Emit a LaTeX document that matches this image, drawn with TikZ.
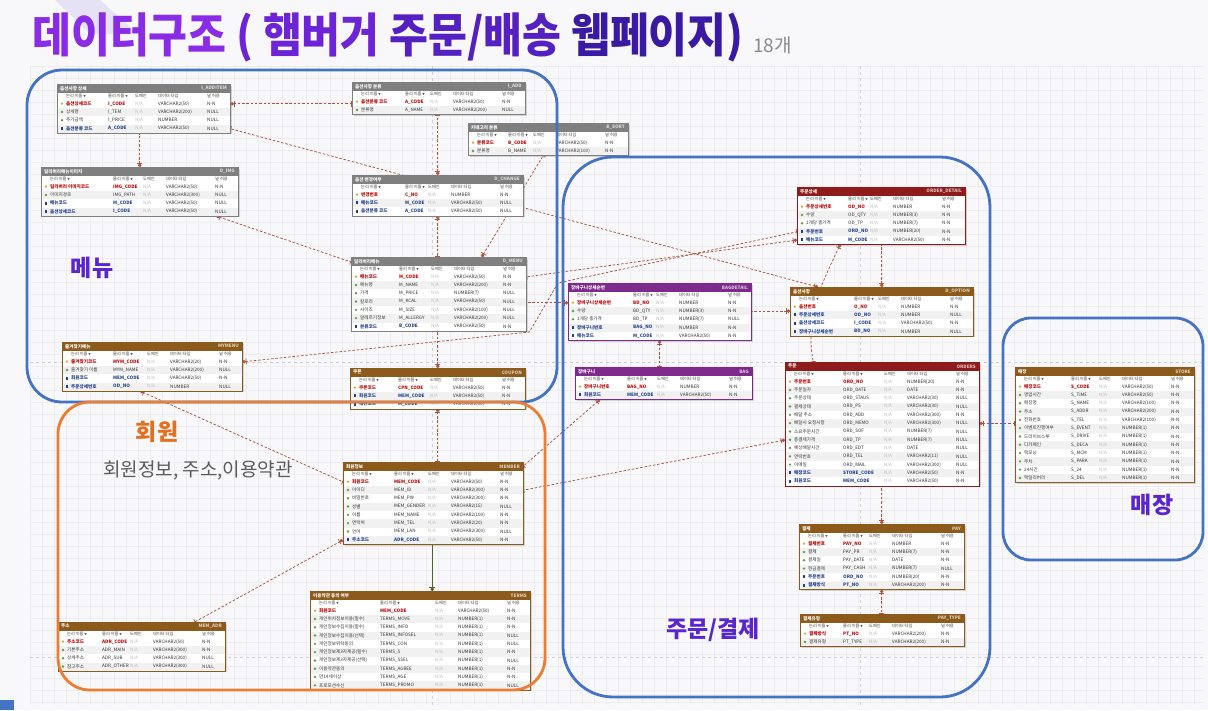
\documentclass[tikz,border=0pt]{standalone}
\usepackage{fontspec}
\setmainfont{Noto Sans CJK KR}
\usetikzlibrary{arrows.meta,shapes.geometric,shadows}
\definecolor{page}{HTML}{F8F8FA}
\definecolor{gridc}{HTML}{ECECF1}
\definecolor{pagebreak}{HTML}{CFCFD8}
\definecolor{deco}{HTML}{E6E2F6}
\definecolor{tA}{HTML}{8A2CE6}
\definecolor{tB}{HTML}{6C24D6}
\definecolor{tC}{HTML}{5420C2}
\definecolor{tD}{HTML}{3A1AA2}
\definecolor{countgray}{HTML}{8A8A8A}
\definecolor{grpblue}{HTML}{4472C4}
\definecolor{grporange}{HTML}{ED7D31}
\definecolor{lblpurple}{HTML}{5A24D0}
\definecolor{lblorange}{HTML}{E2701E}
\definecolor{subgray}{HTML}{5A5A5A}
\definecolor{hdgray}{HTML}{7F7F7F}
\definecolor{hdbrown}{HTML}{8C5A1A}
\definecolor{hdmaroon}{HTML}{8E1C1C}
\definecolor{hdpurple}{HTML}{7E2A8C}
\definecolor{rowgray}{HTML}{F1F1F1}
\definecolor{pkred}{HTML}{C00000}
\definecolor{fkblue}{HTML}{1F3F8F}
\definecolor{celltext}{HTML}{333333}
\definecolor{nagray}{HTML}{BDBDBD}
\definecolor{keygold}{HTML}{D9A520}
\definecolor{attgreen}{HTML}{5BA33B}
\definecolor{relred}{HTML}{B0533C}
\definecolor{idgreen}{HTML}{4F6228}
\pgfdeclarelayer{bg}
\pgfsetlayers{bg,main}

\newcommand{\tri}{\,{\fontsize{2.5}{3}\selectfont ▼}}
% one ERD table: name, top-left, width, physical column, rows, colour,
% logical title, physical title, rows as kind/logical/physical/type/null
\newcommand{\erdtable}[9]{%
  \begin{scope}[shift={(#2)}]
    \pgfmathsetmacro{\tabh}{15.5+#5*8.3}
    \node[tabframe,minimum width=#3,minimum height=\tabh] (#1) at (0,0) {};
    \fill[#6] (0,0) rectangle (#3,8.5);
    \node[headtxt,anchor=west] at (3,4.3) {#7};
    \node[headtxt,anchor=east,text=white!72!#6] at (#3-3,4.3) {#8};
    \node[colhead] at (9,12) {논리 이름\tri};
    \node[colhead] at (#4,12) {물리 이름\tri};
    \node[colhead] at (#3-95,12) {도메인};
    \node[colhead] at (#3-72,12) {데이터 타입};
    \node[colhead] at (#3-23,12) {널 허용};
    \foreach \kk/\lgn/\phn/\dtp/\nul [count=\ri] in {#9} {
      \ifodd\ri\relax\def\rowfill{white}\else\def\rowfill{rowgray}\fi
      \node[rowband,fill=\rowfill,minimum width=#3] (#1-\ri) at (0,15.5+\ri*8.3-8.3) {};
      \pgfmathsetmacro{\ry}{15.5+\ri*8.3-4.15}
      \node[\kk-ic] at (5,\ry) {};
      \node[celltxt,\kk] at (9,\ry) {\lgn};
      \node[celltxt,\kk] at (#4,\ry) {\phn};
      \node[celltxt,text=nagray] at (#3-95,\ry) {N/A};
      \node[celltxt] at (#3-72,\ry) {\dtp};
      \node[celltxt] at (#3-23,\ry) {\nul};
    }
    \draw[draw=#6,line width=.6pt] (#1.north west) rectangle (#1.south east);
  \end{scope}}

\begin{document}
\begin{tikzpicture}[x=1pt,y=-1pt,
  tabframe/.style={anchor=north west,inner sep=0,fill=white,
    drop shadow={shadow xshift=1.5pt,shadow yshift=-1.5pt,opacity=.3}},
  rowband/.style={anchor=north west,inner sep=0,minimum height=8.3,draw=none},
  headtxt/.style={font=\fontsize{4.6}{5}\selectfont\bfseries,text=white,inner sep=0},
  colhead/.style={font=\fontsize{4.2}{5}\selectfont,anchor=west,inner sep=0,text=black!75},
  celltxt/.style={font=\fontsize{4.6}{5}\selectfont,anchor=west,inner sep=0,text=celltext},
  keyrow/.style={text=pkred,font=\fontsize{4.6}{5}\selectfont\bfseries},
  fkrow/.style={text=fkblue,font=\fontsize{4.6}{5}\selectfont\bfseries},
  attrow/.style={},
  keyrow-ic/.style={circle,fill=keygold,inner sep=0,minimum size=2.4},
  attrow-ic/.style={diamond,fill=attgreen,inner sep=0,minimum size=2.8},
  fkrow-ic/.style={rectangle,fill=fkblue,inner sep=0,minimum width=1.4,minimum height=3},
  rel/.style={draw=relred,line width=.75pt,dash pattern=on 2.5pt off 1.8pt,
    {Circle[length=3.4pt] Bar[width=5.5pt]}-{Bar[width=5.5pt]}},
  idrel/.style={draw=idgreen,line width=.9pt,
    {Circle[length=3.4pt] Bar[width=5.5pt]}-{Bar[width=5.5pt]}},
  group/.style={line width=2.8pt},
  grplabel/.style={font=\fontsize{23}{26}\selectfont\bfseries,text=lblpurple}]

\useasboundingbox (0,0) rectangle (1208,710);

% -------------------------------------------------------------------------
% Page, grid and page breaks.
% -------------------------------------------------------------------------
\begin{pgfonlayer}{bg}
  \fill[page] (0,0) rectangle (1208,710);
  \fill[deco] (55,0) -- (100,0) -- (138,34) -- (90,34) -- cycle;
  \foreach \gx in {30,42,...,1200} \draw[gridc,line width=.4pt] (\gx,66) -- (\gx,705);
  \foreach \gy in {66,78,...,705} \draw[gridc,line width=.4pt] (30,\gy) -- (1204,\gy);
  \foreach \gx in {432,860} \draw[pagebreak,dashed,line width=.5pt] (\gx,66) -- (\gx,705);
  \foreach \gy in {362,657} \draw[pagebreak,dashed,line width=.5pt] (30,\gy) -- (1204,\gy);
  \fill[grpblue] (0,700) rectangle (14,710);
\end{pgfonlayer}

% -------------------------------------------------------------------------
% Title.
% -------------------------------------------------------------------------
\node[anchor=west,inner sep=0,font=\fontsize{47}{50}\selectfont\bfseries] (ttl) at (32,37)
  {\scalebox{0.9}[1]{\textcolor{tA}{데이터구조} \textcolor{tB}{( 햄버거} \textcolor{tC}{주문/배송} \textcolor{tD}{웹페이지)}}};
\node[anchor=base west,inner sep=0,font=\fontsize{19}{20}\selectfont,text=countgray] (cnt)
  at ([xshift=9]ttl.base east) {18개};

% -------------------------------------------------------------------------
% Menu tables.
% -------------------------------------------------------------------------
\erdtable{iadditem}{57,84}{173}{51}{4}{hdgray}{옵션사항 상세}{I\_ADDITEM}{
  keyrow/옵션상세코드/I\_CODE/VARCHAR2(50)/N-N,
  attrow/상세명/I\_TEM/VARCHAR2(200)/NULL,
  attrow/추가금액/I\_PRICE/NUMBER/NULL,
  fkrow/옵션분류 코드/A\_CODE/VARCHAR2(50)/NULL}
\erdtable{iadd}{352,82}{173}{53}{2}{hdgray}{옵션사항 분류}{I\_ADD}{
  keyrow/옵션분류 코드/A\_CODE/VARCHAR2(50)/N-N,
  attrow/분류명/A\_NAME/VARCHAR2(200)/NULL}
\erdtable{bsort}{468,123}{160}{40}{2}{hdgray}{카테고리 분류}{B\_SORT}{
  keyrow/분류코드/B\_CODE/VARCHAR2(50)/N-N,
  attrow/분류명/B\_NAME/VARCHAR2(100)/N-N}
\erdtable{dimg}{41,167}{197}{72}{4}{hdgray}{딜리버리메뉴이미지}{D\_IMG}{
  keyrow/딜리버리 이미지코드/IMG\_CODE/VARCHAR2(50)/N-N,
  attrow/이미지경로/IMG\_PATH/VARCHAR2(300)/NULL,
  fkrow/메뉴코드/M\_CODE/VARCHAR2(50)/NULL,
  fkrow/옵션상세코드/I\_CODE/VARCHAR2(50)/NULL}
\erdtable{dchange}{352,175}{171}{53}{3}{hdgray}{옵션 변경여부}{D\_CHANGE}{
  keyrow/변경번호/C\_NO/NUMBER/N-N,
  fkrow/메뉴코드/M\_CODE/VARCHAR2(50)/NULL,
  fkrow/옵션분류 코드/A\_CODE/VARCHAR2(50)/NULL}
\erdtable{dmenu}{351,257}{175}{48}{7}{hdgray}{딜리버리메뉴}{D\_MENU}{
  keyrow/메뉴코드/M\_CODE/VARCHAR2(50)/N-N,
  attrow/메뉴명/M\_NAME/VARCHAR2(200)/N-N,
  attrow/가격/M\_PRICE/NUMBER(7)/NULL,
  attrow/칼로리/M\_KCAL/VARCHAR2(50)/NULL,
  attrow/사이즈/M\_SIZE/VARCHAR2(100)/NULL,
  attrow/알레르기정보/M\_ALLERGY/VARCHAR2(200)/NULL,
  fkrow/분류코드/B\_CODE/VARCHAR2(50)/N-N}
\erdtable{mymenu}{62,342}{180}{51}{4}{hdbrown}{즐겨찾기메뉴}{MYMENU}{
  keyrow/즐겨찾기코드/MYM\_CODE/VARCHAR2(20)/N-N,
  attrow/즐겨찾기 이름/MYM\_NAME/VARCHAR2(200)/NULL,
  fkrow/회원코드/MEM\_CODE/VARCHAR2(50)/N-N,
  fkrow/주문상세번호/OD\_NO/NUMBER/NULL}
\erdtable{coupon}{350,368}{175}{48}{3}{hdbrown}{쿠폰}{COUPON}{
  keyrow/쿠폰코드/CPN\_CODE/VARCHAR2(50)/N-N,
  fkrow/회원코드/MEM\_CODE/VARCHAR2(50)/N-N,
  fkrow/메뉴코드/M\_CODE/VARCHAR2(50)/N-N}

% -------------------------------------------------------------------------
% Member tables.
% -------------------------------------------------------------------------
\erdtable{member}{343,462}{180}{51}{8}{hdbrown}{회원정보}{MEMBER}{
  keyrow/회원코드/MEM\_CODE/VARCHAR2(50)/N-N,
  attrow/아이디/MEM\_ID/VARCHAR2(300)/N-N,
  attrow/비밀번호/MEM\_PW/VARCHAR2(300)/N-N,
  attrow/성별/MEM\_GENDER/VARCHAR2(15)/NULL,
  attrow/이름/MEM\_NAME/VARCHAR2(100)/N-N,
  attrow/연락처/MEM\_TEL/VARCHAR2(20)/N-N,
  attrow/언어/MEM\_LAN/VARCHAR2(300)/NULL,
  fkrow/주소코드/ADR\_CODE/VARCHAR2(50)/N-N}
\erdtable{memadr}{58,622}{167}{44}{4}{hdbrown}{주소}{MEM\_ADR}{
  keyrow/주소코드/ADR\_CODE/VARCHAR2(50)/N-N,
  attrow/기본주소/ADR\_MAIN/VARCHAR2(300)/N-N,
  attrow/상세주소/ADR\_SUB/VARCHAR2(300)/NULL,
  attrow/참고주소/ADR\_OTHER/VARCHAR2(300)/NULL}
\erdtable{terms}{310,591}{220}{70}{10}{hdbrown}{이용약관 동의 여부}{TERMS}{
  keyrow/회원코드/MEM\_CODE/VARCHAR2(50)/N-N,
  attrow/개인위치정보이용(필수)/TERMS\_MOVE/NUMBER(1)/N-N,
  attrow/개인정보수집이용(필수)/TERMS\_INFO/NUMBER(1)/N-N,
  attrow/개인정보수집이용(선택)/TERMS\_INFOSEL/NUMBER(1)/NULL,
  attrow/개인정보위탁동의/TERMS\_CON/NUMBER(1)/NULL,
  attrow/개인정보제3자제공(필수)/TERMS\_S/NUMBER(1)/N-N,
  attrow/개인정보제3자제공(선택)/TERMS\_SSEL/NUMBER(1)/NULL,
  attrow/이용약관동의/TERMS\_AGREE/NUMBER(1)/N-N,
  attrow/만14세이상/TERMS\_AGE/NUMBER(1)/N-N,
  attrow/프로모션수신/TERMS\_PROMO/NUMBER(1)/NULL}

% -------------------------------------------------------------------------
% Order and payment tables.
% -------------------------------------------------------------------------
\erdtable{orderdetail}{797,187}{168}{51}{5}{hdmaroon}{주문상세}{ORDER\_DETAIL}{
  keyrow/주문상세번호/OD\_NO/NUMBER/N-N,
  attrow/수량/OD\_QTY/NUMBER(3)/N-N,
  attrow/1개당 총가격/OD\_TP/NUMBER(7)/N-N,
  fkrow/주문번호/ORD\_NO/NUMBER(20)/N-N,
  fkrow/메뉴코드/M\_CODE/VARCHAR2(50)/N-N}
\erdtable{bagdetail}{568,283}{183}{65}{5}{hdpurple}{장바구니상세순번}{BAGDETAIL}{
  keyrow/장바구니상세순번/BD\_NO/NUMBER/N-N,
  attrow/수량/BD\_QTY/NUMBER(3)/N-N,
  attrow/1개당 총가격/BD\_TP/NUMBER(7)/NULL,
  fkrow/장바구니번호/BAG\_NO/NUMBER/N-N,
  fkrow/메뉴코드/M\_CODE/VARCHAR2(50)/N-N}
\erdtable{bag}{575,367}{177}{52}{2}{hdpurple}{장바구니}{BAG}{
  keyrow/장바구니번호/BAG\_NO/NUMBER/N-N,
  fkrow/회원코드/MEM\_CODE/VARCHAR2(50)/N-N}
\erdtable{doption}{790,287}{183}{64}{4}{hdbrown}{옵션사항}{D\_OPTION}{
  keyrow/옵션번호/O\_NO/NUMBER/N-N,
  fkrow/주문상세번호/OD\_NO/NUMBER/NULL,
  fkrow/옵션상세코드/I\_CODE/VARCHAR2(50)/N-N,
  fkrow/장바구니상세순번/BD\_NO/NUMBER/NULL}
\erdtable{orders}{785,362}{194}{58}{13}{hdmaroon}{주문}{ORDERS}{
  keyrow/주문번호/ORD\_NO/NUMBER(20)/N-N,
  attrow/주문일자/ORD\_DATE/DATE/N-N,
  attrow/주문상태/ORD\_STAUS/VARCHAR2(30)/NULL,
  attrow/결제상태/ORD\_PS/VARCHAR2(30)/NULL,
  attrow/배달 주소/ORD\_ADD/VARCHAR2(300)/N-N,
  attrow/배달시 요청사항/ORD\_MEMO/VARCHAR2(300)/NULL,
  attrow/소요주문시간/ORD\_SOF/NUMBER(7)/NULL,
  attrow/총결제가격/ORD\_TP/NUMBER(7)/NULL,
  attrow/예상배달시간/ORD\_EDT/DATE/NULL,
  attrow/연락번호/ORD\_TEL/VARCHAR2(11)/NULL,
  attrow/이메일/ORD\_MAIL/VARCHAR2(300)/NULL,
  fkrow/매장코드/STORE\_CODE/VARCHAR2(50)/N-N,
  fkrow/회원코드/MEM\_CODE/VARCHAR2(50)/N-N}
\erdtable{pay}{799,524}{165}{44}{6}{hdbrown}{결제}{PAY}{
  keyrow/결제번호/PAY\_NO/NUMBER/N-N,
  attrow/결제/PAY\_PR/NUMBER(7)/N-N,
  attrow/결제일/PAY\_DATE/DATE/N-N,
  attrow/현금결제/PAY\_CASH/NUMBER(7)/NULL,
  fkrow/주문번호/ORD\_NO/NUMBER(20)/N-N,
  fkrow/결제방식/PT\_NO/VARCHAR2(200)/N-N}
\erdtable{paytype}{800,614}{164}{43}{2}{hdbrown}{결제유형}{PAY\_TYPE}{
  keyrow/결제방식/PT\_NO/VARCHAR2(200)/N-N,
  attrow/결제유형/PT\_TYPE/VARCHAR2(200)/N-N}

% -------------------------------------------------------------------------
% Store table.
% -------------------------------------------------------------------------
\erdtable{store}{1015,367}{179}{56}{12}{hdbrown}{매장}{STORE}{
  keyrow/매장코드/S\_CODE/VARCHAR2(50)/N-N,
  attrow/영업시간/S\_TIME/VARCHAR2(50)/N-N,
  attrow/매장명/S\_NAME/VARCHAR2(100)/N-N,
  attrow/주소/S\_ADDR/VARCHAR2(200)/N-N,
  attrow/전화번호/S\_TEL/VARCHAR2(100)/N-N,
  attrow/이벤트진행여부/S\_EVENT/NUMBER(1)/N-N,
  attrow/드라이브스루/S\_DRIVE/NUMBER(1)/N-N,
  attrow/디카페인/S\_DECA/NUMBER(1)/N-N,
  attrow/맥모닝/S\_MCM/NUMBER(1)/N-N,
  attrow/주차/S\_PARK/NUMBER(1)/N-N,
  attrow/24시간/S\_24/NUMBER(1)/N-N,
  attrow/맥딜리버리/S\_DEL/NUMBER(1)/N-N}

% -------------------------------------------------------------------------
% Relationships, child end first; drawn behind the tables.
% -------------------------------------------------------------------------
\begin{pgfonlayer}{bg}
  \draw[rel] (iadditem-1.east) -- (iadditem-1.east -| iadd.west);
  \draw[rel] ([xshift=28]doption.north west) -- (iadditem-4.east);
  \draw[rel] (dimg.north) -- (dimg.north |- iadditem.south);
  \draw[rel] ([xshift=-22]dimg.south east) -- ([yshift=-5]dmenu.north west);
  \draw[rel] (dchange.north) -- (dchange.north |- iadd.south);
  \draw[rel] (dchange.south) -- (dchange.south |- dmenu.north);
  \draw[rel] ([xshift=43]dmenu.north) -- ([xshift=-5]bsort.south);
  \draw[rel] (bagdetail-1.west) -- (bagdetail-1.west -| dmenu.east);
  \draw[rel] (orderdetail-5.west) -- (dmenu-1.east);
  \draw[rel] (mymenu-1.east) -- ([xshift=3,yshift=-1]dmenu.south east)
    -- ([xshift=-10]bagdetail.north west) -- (orderdetail-4.west);
  \draw[rel] ([xshift=-12]mymenu.south) -- (member-1.west);
  \draw[rel] (coupon.north) -- (coupon.north |- dmenu.south);
  \draw[rel] (coupon.south) -- (coupon.south |- member.north);
  \draw[rel] (member-8.west) -- ([xshift=53]memadr.north);
  \draw[idrel] ([xshift=12]terms.north) -- ([xshift=12]terms.north |- member.south);
  \draw[rel] ([xshift=25]bag.south west) -- ([yshift=-4]member.north east);
  \draw[rel] (orders-8.west) -- (member-2.east);
  \draw[rel] (bagdetail.south) -- (bagdetail.south |- bag.north);
  \draw[rel] (doption.west |- bagdetail-2.east) -- (bagdetail-2.east);
  \draw[rel] (doption.north) -- (doption.north |- orderdetail.south);
  \draw[rel] ([xshift=-41]orderdetail.south) to[out=-115,in=100] ([xshift=-69]orders.north);
  \draw[rel] (pay.north) -- (pay.north |- orders.south);
  \draw[rel] (pay.south) -- (pay.south |- paytype.north);
  \draw[rel] (orders-6.east) -- (orders-6.east -| store.west);
\end{pgfonlayer}

% -------------------------------------------------------------------------
% Groups.
% -------------------------------------------------------------------------
\draw[group,grpblue,rounded corners=35] (27,70) rectangle (557,402);
\draw[group,grporange,rounded corners=32] (58,402) rectangle (545,690);
\draw[group,grpblue,rounded corners=50] (563,157) rectangle (990,697);
\draw[group,grpblue,rounded corners=28] (1003,318) rectangle (1203,560);

\node[grplabel] (lblmenu) at (92,268) {메뉴};
\node[grplabel,text=lblorange] (lblmember) at (157,432) {회원};
\node[font=\fontsize{19}{22}\selectfont,text=subgray] (lblmemsub) at (198,470) {회원정보, 주소,이용약관};
\node[grplabel] (lblorder) at (713,630) {주문/결제};
\node[grplabel] (lblstore) at (1152,505) {매장};
\end{tikzpicture}
\end{document}
